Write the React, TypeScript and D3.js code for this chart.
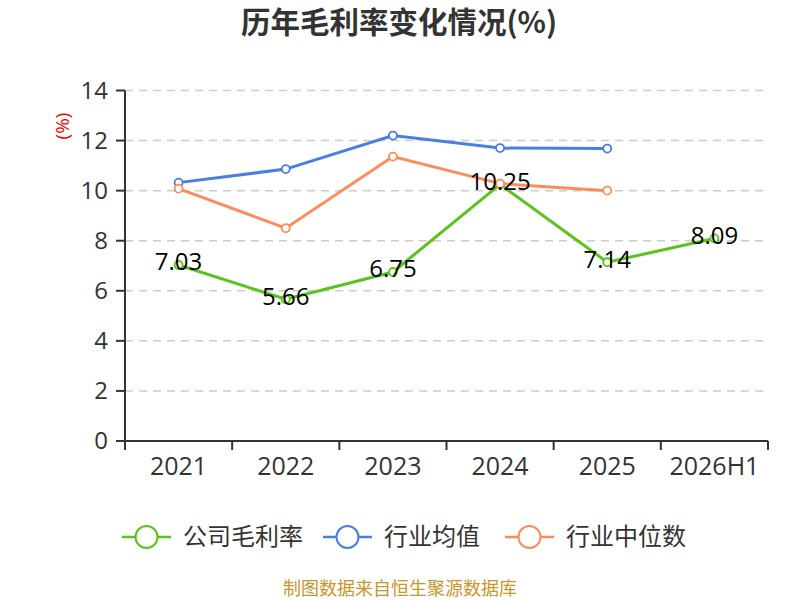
import { useMemo } from "react";
import * as d3 from "d3";

const categories = ["2021", "2022", "2023", "2024", "2025", "2026H1"];
const companyMargin = [7.03, 5.66, 6.75, 10.25, 7.14, 8.09];
const industryAvg = [10.32, 10.86, 12.2, 11.7, 11.68];
const industryMedian = [10.08, 8.5, 11.36, 10.28, 10.0];
const yTicks = [0, 2, 4, 6, 8, 10, 12, 14];

const seriesNames = ["公司毛利率", "行业均值", "行业中位数"];
const seriesColors = ["#5bc31d", "#4a7fe0", "#fd8c5a"];

const width = 800;
const height = 600;
const margin = { top: 90.5, right: 32, bottom: 159, left: 125 };
const font = "'Open Sans', 'Noto Sans CJK SC', sans-serif";
const cjkFont = "'Noto Sans CJK SC', sans-serif";

export default function App() {
	const x = useMemo(
		() =>
			d3
				.scaleBand()
				.domain(categories)
				.range([margin.left, width - margin.right]),
		[],
	);
	const y = useMemo(
		() =>
			d3
				.scaleLinear()
				.domain([0, 14])
				.range([height - margin.bottom, margin.top]),
		[],
	);

	const cx = (i: number) => (x(categories[i]) ?? 0) + x.bandwidth() / 2;
	const line = d3
		.line<number>()
		.x((_, i) => cx(i))
		.y((d) => y(d));

	const series = [companyMargin, industryAvg, industryMedian];
	const x0 = margin.left;
	const x1 = width - margin.right;
	const y0 = y(0);

	const legendX = [122, 323, 505];

	return (
		<svg
			width={width}
			height={height}
			style={{ position: "absolute", left: 0, top: 0, background: "#fff" }}
		>
			<text
				x={399}
				y={33}
				textAnchor="middle"
				fontFamily={cjkFont}
				fontWeight="bold"
				fontSize={29.5}
				fill="#333"
			>
				历年毛利率变化情况(%)
			</text>

			{/* grid */}
			{yTicks
				.filter((t) => t > 0)
				.map((t) => (
					<line
						key={t}
						x1={x0}
						x2={x1}
						y1={y(t)}
						y2={y(t)}
						stroke="#ccc"
						strokeWidth={1.5}
						strokeDasharray="8 6"
					/>
				))}

			{/* y axis */}
			<line x1={x0} x2={x0} y1={y(14)} y2={y0} stroke="#333" strokeWidth={2} />
			{yTicks.map((t) => (
				<g key={t}>
					<line x1={x0 - 9} x2={x0} y1={y(t)} y2={y(t)} stroke="#333" strokeWidth={2} />
					<text
						x={x0 - 17}
						y={y(t)}
						dy="0.35em"
						textAnchor="end"
						fontFamily={font}
						fontSize={24}
						fill="#333"
					>
						{t}
					</text>
				</g>
			))}
			<text
				transform={`translate(62,126) rotate(-90)`}
				textAnchor="middle"
				dy="0.35em"
				fontFamily={font}
				fontSize={19}
				fill="#e00"
			>
				(%)
			</text>

			{/* x axis */}
			<line x1={x0} x2={x1} y1={y0} y2={y0} stroke="#333" strokeWidth={2} />
			{categories.map((c) => (
				<line
					key={c}
					x1={x(c)}
					x2={x(c)}
					y1={y0}
					y2={y0 + 9}
					stroke="#333"
					strokeWidth={2}
				/>
			))}
			<line x1={x1} x2={x1} y1={y0} y2={y0 + 9} stroke="#333" strokeWidth={2} />
			{categories.map((c, i) => (
				<text
					key={c}
					x={cx(i)}
					y={y0 + 25}
					dy="0.35em"
					textAnchor="middle"
					fontFamily={font}
					fontSize={25}
					fill="#333"
				>
					{c}
				</text>
			))}

			{/* lines */}
			{series.map((s, si) => (
				<path
					key={si}
					d={line(s) ?? ""}
					fill="none"
					stroke={seriesColors[si]}
					strokeWidth={3}
				/>
			))}
			{series.map((s, si) =>
				s.map((v, i) => (
					<circle
						key={`${si}-${i}`}
						cx={cx(i)}
						cy={y(v)}
						r={4}
						fill="#fff"
						stroke={seriesColors[si]}
						strokeWidth={1.8}
					/>
				)),
			)}

			{/* data labels */}
			{companyMargin.map((v, i) => (
				<text
					key={i}
					x={cx(i)}
					y={y(v) - 3}
					dy="0.35em"
					textAnchor="middle"
					fontFamily={font}
					fontSize={24}
					fill="#000"
				>
					{v.toFixed(2)}
				</text>
			))}

			{/* legend */}
			{seriesNames.map((name, i) => (
				<g key={name} transform={`translate(${legendX[i]},537)`}>
					<line x1={0} x2={49} y1={0} y2={0} stroke={seriesColors[i]} strokeWidth={2.5} />
					<circle cx={24.5} cy={0} r={11} fill="#fff" stroke={seriesColors[i]} strokeWidth={2} />
					<text
						x={61}
						y={0}
						dy="0.35em"
						fontFamily={cjkFont}
						fontSize={24}
						fill="#333"
					>
						{name}
					</text>
				</g>
			))}

			<text
				x={400}
				y={589}
				dy="0.35em"
				textAnchor="middle"
				fontFamily={cjkFont}
				fontSize={18}
				fill="#c9952d"
			>
				制图数据来自恒生聚源数据库
			</text>
		</svg>
	);
}
